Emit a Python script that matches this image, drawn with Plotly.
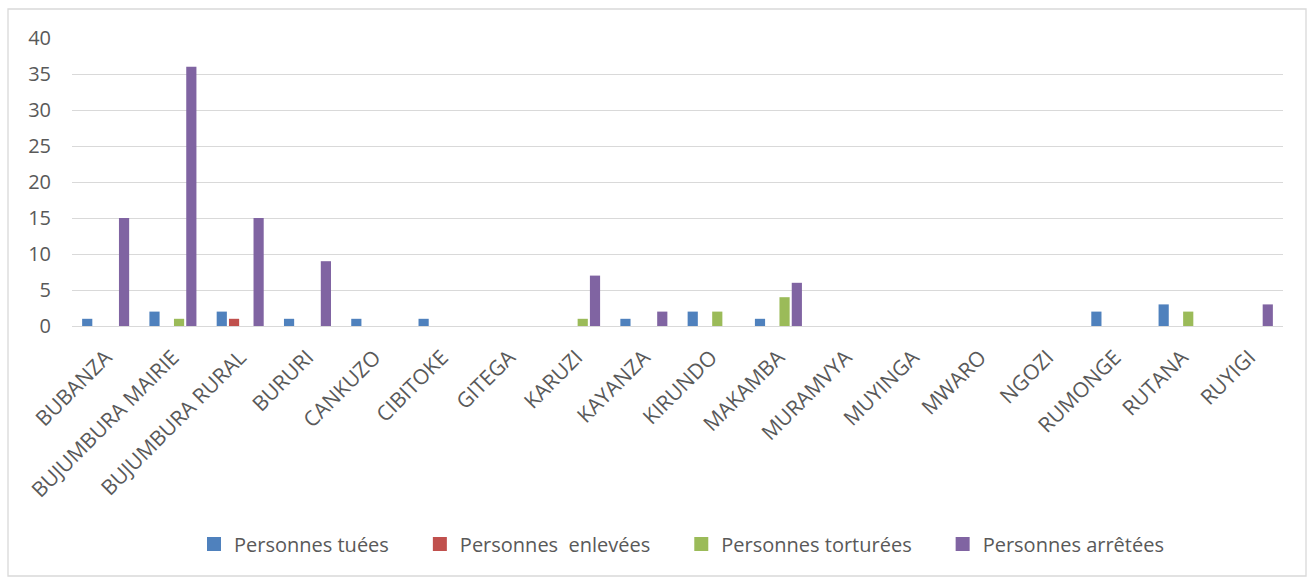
import plotly.graph_objects as go

provinces = ["BUBANZA", "BUJUMBURA MAIRIE", "BUJUMBURA RURAL", "BURURI", "CANKUZO",
             "CIBITOKE", "GITEGA", "KARUZI", "KAYANZA", "KIRUNDO", "MAKAMBA",
             "MURAMVYA", "MUYINGA", "MWARO", "NGOZI", "RUMONGE", "RUTANA", "RUYIGI"]

tuees = [1, 2, 2, 1, 1, 1, 0, 0, 1, 2, 1, 0, 0, 0, 0, 2, 3, 0]
enlevees = [0, 0, 1, 0, 0, 0, 0, 0, 0, 0, 0, 0, 0, 0, 0, 0, 0, 0]
torturees = [0, 1, 0, 0, 0, 0, 0, 1, 0, 2, 4, 0, 0, 0, 0, 0, 2, 0]
arretees = [15, 36, 15, 9, 0, 0, 0, 7, 2, 0, 6, 0, 0, 0, 0, 0, 0, 3]

NB = "\u00a0"
series = [
    ("Personnes tuées", tuees, "#4F81BD"),
    ("Personnes" + NB * 2 + "enlevées", enlevees, "#C0504D"),
    ("Personnes torturées", torturees, "#9BBB59"),
    ("Personnes arrêtées", arretees, "#8064A2"),
]

fig = go.Figure()
for i, (name, vals, color) in enumerate(series):
    fig.add_trace(go.Bar(
        x=provinces, y=vals, name=name, legendgroup=name, showlegend=False,
        marker=dict(color=color, line=dict(width=0)),
    ))

# legend keys drawn as larger square markers
for i, (name, vals, color) in enumerate(series):
    pad = NB * 5 if i < len(series) - 1 else ""
    fig.add_trace(go.Scatter(
        x=[None], y=[None], mode="markers", name=name + pad, legendgroup=name,
        marker=dict(symbol="square", size=14, color=color, line=dict(width=0)),
    ))

grey = "#595959"
fig.update_layout(
    width=1314, height=581,
    paper_bgcolor="white", plot_bgcolor="white",
    margin=dict(l=72, r=31, t=38, b=255),
    barmode="group", bargap=0.27, bargroupgap=0.17,
    font=dict(family="Open Sans, Liberation Sans, sans-serif", color=grey),
    xaxis=dict(
        tickangle=-45, tickfont=dict(size=21, color=grey),
        showgrid=False, showline=False, ticks="", ticklabelstandoff=14,
    ),
    yaxis=dict(
        range=[0, 40], dtick=5, tickfont=dict(size=20, color=grey),
        showgrid=True, gridcolor="#D9D9D9", gridwidth=1.3,
        zeroline=True, zerolinecolor="#D9D9D9", zerolinewidth=1.3,
        ticks="", ticklabelstandoff=20,
    ),
    legend=dict(
        orientation="h", x=(194 - 72) / 1211, xanchor="left",
        y=-0.757, yanchor="middle",
        font=dict(size=20, color=grey),
        itemwidth=30, traceorder="normal",
    ),
    shapes=[dict(
        type="rect", xref="paper", yref="paper",
        x0=-64 / 1211, x1=1 + 23 / 1211, y0=-250 / 288, y1=1 + 29 / 288,
        line=dict(color="#D9D9D9", width=1.3), fillcolor="rgba(0,0,0,0)", layer="below",
    )],
)

fig.write_html("out.html")
